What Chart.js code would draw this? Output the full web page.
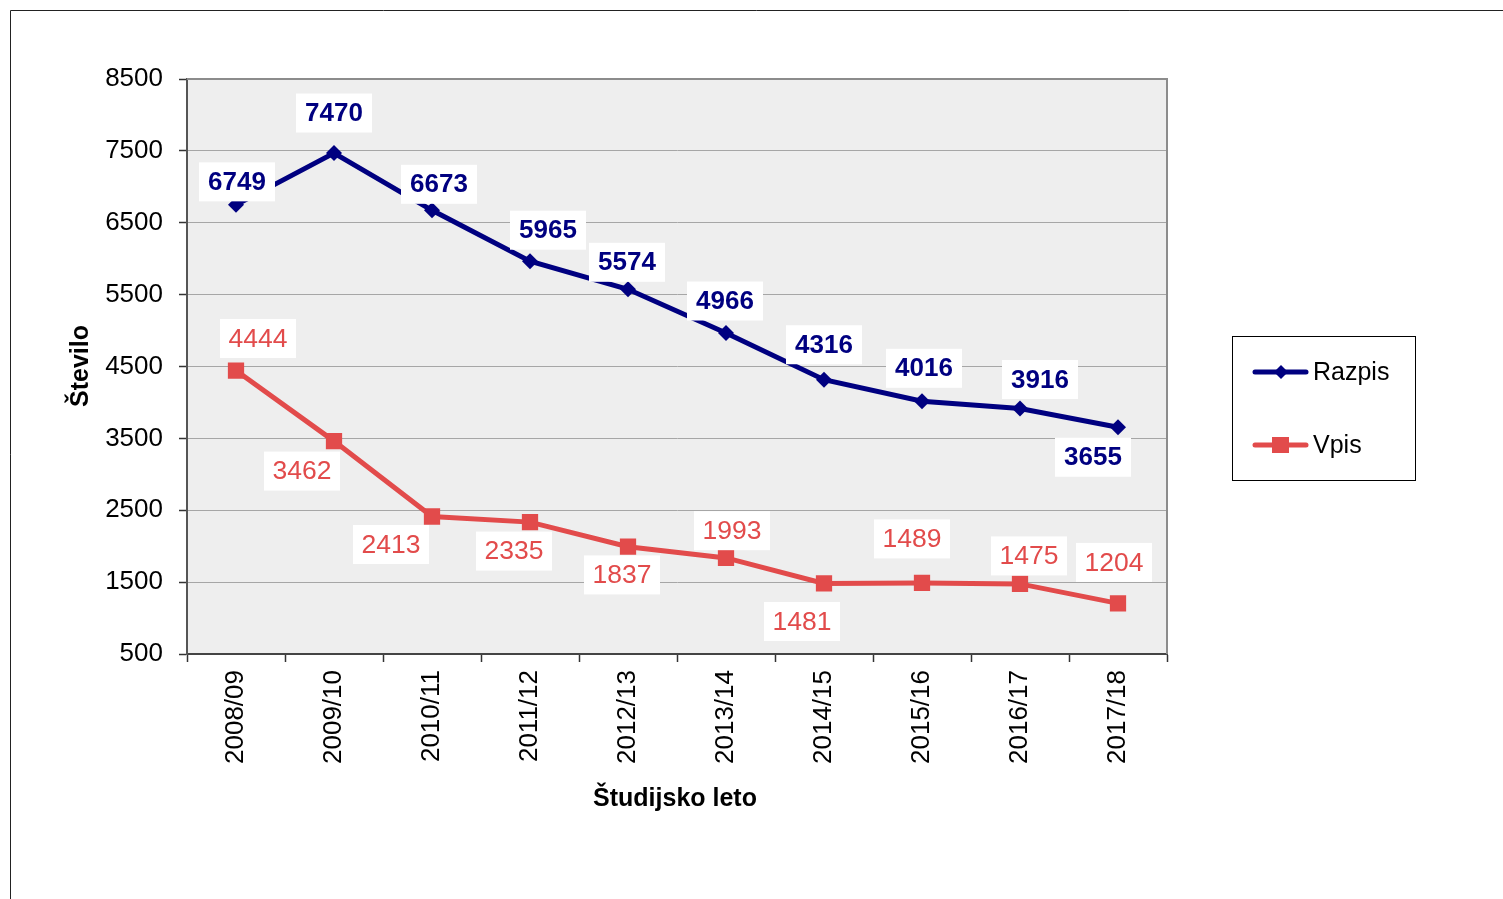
<!DOCTYPE html>
<html>
<head>
<meta charset="utf-8">
<script src="https://cdn.jsdelivr.net/npm/chart.js@4/dist/chart.umd.min.js"></script>
<style>
  html, body { margin: 0; padding: 0; background: #ffffff; }
  #wrap { position: relative; width: 1503px; height: 899px; }
</style>
</head>
<body>
<div id="wrap"><canvas id="c" width="1503" height="899"></canvas></div>
<script>
// Academic years
const years = ['2008/09', '2009/10', '2010/11', '2011/12', '2012/13',
               '2013/14', '2014/15', '2015/16', '2016/17', '2017/18'];
// Places offered (Razpis)
const razpis = [6749, 7470, 6673, 5965, 5574, 4966, 4316, 4016, 3916, 3655];
// Enrolled (Vpis)
const vpis = [4444, 3462, 2413, 2335, 1993, 1837, 1481, 1489, 1475, 1204];
// Value-axis ticks
const yTicks = [500, 1500, 2500, 3500, 4500, 5500, 6500, 7500, 8500];

// Label placement relative to each point (pixels)
const razpisLabelOffsets = [[1,-23],[0,-40],[7,-26],[18,-31],[-1,-27],[-1,-32],[0,-35],[2,-33],[20,-29],[-25,30]];
const vpisLabelOffsets = [[22,-32],[-32,30],[-41,28],[-16,29],[104,-16],[-104,17],[-22,38],[-10,-44],[9,-28],[-4,-41]];

const NAVY = '#000080';
const RED = '#E24B4B';
const FONT = 'Arial, "Liberation Sans", sans-serif';

const plotLeft = 187, plotTop = 79, plotRight = 1167, plotBottom = 654;

const framePlugin = {
  id: 'frame',
  beforeDraw(chart) {
    const { ctx, chartArea: a } = chart;
    ctx.save();
    ctx.fillStyle = '#ffffff';
    ctx.fillRect(0, 0, chart.width, chart.height);
    // outer frame
    ctx.strokeStyle = '#222222';
    ctx.lineWidth = 1;
    ctx.beginPath();
    ctx.moveTo(10.5, chart.height);
    ctx.lineTo(10.5, 10.5);
    ctx.lineTo(chart.width, 10.5);
    ctx.stroke();
    // plot background
    ctx.fillStyle = '#EEEEEE';
    ctx.fillRect(a.left, a.top, a.right - a.left, a.bottom - a.top);
    ctx.restore();
  },
  afterDraw(chart) {
    const { ctx, chartArea: a } = chart;
    ctx.save();
    // top and right plot border
    ctx.strokeStyle = '#8C8C8C';
    ctx.lineWidth = 2;
    ctx.beginPath();
    ctx.moveTo(a.left, a.top);
    ctx.lineTo(a.right, a.top);
    ctx.lineTo(a.right, a.bottom);
    ctx.stroke();

    // axis titles
    ctx.fillStyle = '#000000';
    ctx.font = 'bold 25px ' + FONT;
    ctx.textAlign = 'center';
    ctx.textBaseline = 'middle';
    ctx.fillText('Študijsko leto', 675, 799);
    ctx.save();
    ctx.translate(81, 366);
    ctx.rotate(-Math.PI / 2);
    ctx.fillText('Število', 0, 0);
    ctx.restore();

    // legend
    ctx.strokeStyle = '#000000';
    ctx.lineWidth = 1;
    ctx.strokeRect(1232.5, 336.5, 183, 144);
    const items = [
      { ds: chart.data.datasets[0], y: 372 },
      { ds: chart.data.datasets[1], y: 445 }
    ];
    items.forEach(it => {
      ctx.strokeStyle = it.ds.borderColor;
      ctx.lineWidth = 5;
      ctx.lineCap = 'round';
      ctx.beginPath();
      ctx.moveTo(1255, it.y);
      ctx.lineTo(1306, it.y);
      ctx.stroke();
      ctx.fillStyle = it.ds.pointBackgroundColor;
      if (it.ds.pointStyle === 'rectRot') {
        const r = 7;
        ctx.beginPath();
        ctx.moveTo(1281 - r, it.y);
        ctx.lineTo(1281, it.y - r);
        ctx.lineTo(1281 + r, it.y);
        ctx.lineTo(1281, it.y + r);
        ctx.closePath();
        ctx.fill();
      } else {
        ctx.fillRect(1272, it.y - 8, 17, 16);
      }
      ctx.fillStyle = '#000000';
      ctx.font = '25px ' + FONT;
      ctx.textAlign = 'left';
      ctx.textBaseline = 'middle';
      ctx.fillText(it.ds.label, 1313, it.y + 1);
    });
    ctx.restore();
  }
};

const labelPlugin = {
  id: 'valueLabels',
  afterDatasetsDraw(chart) {
    const { ctx } = chart;
    ctx.save();
    chart.data.datasets.forEach((ds, di) => {
      const meta = chart.getDatasetMeta(di);
      meta.data.forEach((pt, i) => {
        const off = ds.labelOffsets[i];
        const cx = pt.x + off[0];
        const cy = pt.y + off[1];
        ctx.fillStyle = '#ffffff';
        ctx.fillRect(cx - 38, cy - 19.5, 76, 39);
        ctx.fillStyle = ds.borderColor;
        ctx.font = ds.labelFont;
        ctx.textAlign = 'center';
        ctx.textBaseline = 'middle';
        ctx.fillText(String(ds.data[i]), cx, cy + 1);
      });
    });
    ctx.restore();
  }
};

new Chart(document.getElementById('c'), {
  type: 'line',
  data: {
    labels: years,
    datasets: [
      {
        label: 'Razpis',
        data: razpis,
        borderColor: NAVY,
        backgroundColor: NAVY,
        pointBackgroundColor: NAVY,
        pointBorderColor: NAVY,
        borderWidth: 5,
        pointStyle: 'rectRot',
        pointRadius: 8,
        pointBorderWidth: 0,
        tension: 0,
        labelOffsets: razpisLabelOffsets,
        labelFont: 'bold 26px ' + FONT
      },
      {
        label: 'Vpis',
        data: vpis,
        borderColor: RED,
        backgroundColor: RED,
        pointBackgroundColor: RED,
        pointBorderColor: RED,
        borderWidth: 5,
        pointStyle: 'rect',
        pointRadius: 11.5,
        pointBorderWidth: 0,
        tension: 0,
        labelOffsets: vpisLabelOffsets,
        labelFont: '26.5px ' + FONT
      }
    ]
  },
  options: {
    responsive: false,
    animation: false,
    devicePixelRatio: 1,
    layout: { padding: { left: 0, top: plotTop, right: 1503 - plotRight, bottom: 0 } },
    plugins: {
      legend: { display: false },
      tooltip: { enabled: false }
    },
    scales: {
      x: {
        type: 'category',
        offset: true,
        afterFit(scale) { scale.height = 899 - plotBottom; },
        grid: {
          offset: true,
          drawOnChartArea: false,
          drawTicks: true,
          tickLength: 8,
          tickColor: '#333333',
          tickWidth: 1.5
        },
        border: { color: '#444444', width: 2 },
        ticks: {
          color: '#000000',
          font: { family: FONT, size: 26 },
          minRotation: 90,
          maxRotation: 90,
          autoSkip: false,
          padding: 8
        }
      },
      y: {
        type: 'linear',
        min: 500,
        max: 8500,
        afterFit(scale) { scale.width = plotLeft; },
        afterBuildTicks(scale) { scale.ticks = yTicks.map(v => ({ value: v })); },
        grid: {
          color: '#A6A6A6',
          lineWidth: 1,
          drawTicks: true,
          tickLength: 8,
          tickColor: '#333333',
          tickWidth: 1.5
        },
        border: { color: '#555555', width: 2 },
        ticks: {
          color: '#000000',
          font: { family: FONT, size: 26 },
          padding: 16,
          callback: (v) => String(v)
        }
      }
    }
  },
  plugins: [framePlugin, labelPlugin]
});
</script>
</body>
</html>
